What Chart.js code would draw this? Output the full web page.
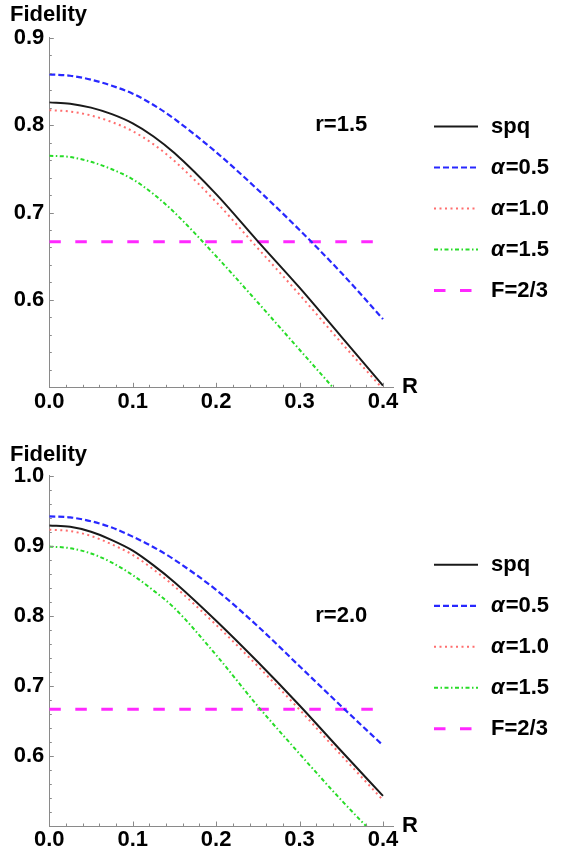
<!DOCTYPE html>
<html>
<head>
<meta charset="utf-8">
<script src="https://cdn.jsdelivr.net/npm/chart.js@4.4.0/dist/chart.umd.min.js"></script>
<style>
  body { margin: 0; background: #fff; }
  canvas { display: block; }
</style>
</head>
<body>
<canvas id="top" width="580" height="420"></canvas>
<canvas id="bottom" width="580" height="433"></canvas>
<script>
const R = [0, 0.025, 0.05, 0.075, 0.1, 0.125, 0.15, 0.2, 0.25, 0.3, 0.35, 0.4];
const Rflat = [0, 0.4];

// r = 1.5
const spq15  = [0.826, 0.8245, 0.820, 0.8125, 0.802, 0.787, 0.768, 0.721, 0.667, 0.614, 0.558, 0.502];
const a05_15 = [0.858, 0.8565, 0.852, 0.845, 0.836, 0.823, 0.807, 0.769, 0.726, 0.680, 0.631, 0.578];
const a10_15 = [0.817, 0.8155, 0.811, 0.8035, 0.793, 0.778, 0.759, 0.712, 0.659, 0.606, 0.551, 0.498];
const a15_15 = [0.765, 0.7635, 0.758, 0.7495, 0.738, 0.721, 0.700, 0.650, 0.597, 0.543, 0.489];

// r = 2.0
const spq20  = [0.929, 0.927, 0.920, 0.908, 0.893, 0.872, 0.848, 0.793, 0.734, 0.672, 0.607, 0.543];
const a05_20 = [0.942, 0.9405, 0.935, 0.926, 0.913, 0.898, 0.880, 0.837, 0.785, 0.728, 0.671, 0.615];
const a10_20 = [0.923, 0.921, 0.914, 0.902, 0.887, 0.866, 0.842, 0.787, 0.728, 0.666, 0.601, 0.537];
const a15_20 = [0.899, 0.8965, 0.889, 0.876, 0.858, 0.836, 0.811, 0.744, 0.671, 0.603, 0.537, 0.475];

const classical = [2 / 3, 2 / 3];

const seriesLabels = ['spq', 'α=0.5', 'α=1.0', 'α=1.5', 'F=2/3'];
const xTicks = [0, 0.1, 0.2, 0.3, 0.4];
const yTicksTop = [0.5, 0.6, 0.7, 0.8, 0.9];
const yTicksBottom = [0.5, 0.6, 0.7, 0.8, 0.9, 1.0];

Chart.defaults.font.family = "'Liberation Sans', Arial, sans-serif";
Chart.defaults.font.size = 22;
Chart.defaults.font.weight = 'bold';
Chart.defaults.color = '#000';

const AXIS = '#8a8a8a';

function pts(xs, ys) {
  return ys.map((v, i) => ({ x: xs[i], y: v }));
}

// inward ticks, legend, R label and r=.. label
const extras = {
  id: 'extras',
  afterDraw(chart, args, opts) {
    const { ctx, chartArea: a, scales: { x, y } } = chart;
    ctx.save();
    ctx.strokeStyle = AXIS;
    ctx.lineWidth = 1;
    ctx.beginPath();
    for (let i = 0; i <= 20; i++) {
      const px = Math.round(x.getPixelForValue(i * 0.02)) + 0.5;
      ctx.moveTo(px, a.bottom);
      ctx.lineTo(px, a.bottom - (i % 5 === 0 ? 4.5 : 2.5));
    }
    const n = Math.round((y.max - y.min) / 0.02);
    for (let i = 1; i <= n; i++) {
      const py = Math.round(y.getPixelForValue(y.min + i * 0.02)) + 0.5;
      ctx.moveTo(a.left, py);
      ctx.lineTo(a.left + (i % 5 === 0 ? 4.5 : 2.5), py);
    }
    ctx.stroke();

    ctx.fillStyle = '#000';
    ctx.font = "bold 22px 'Liberation Sans', Arial, sans-serif";
    ctx.textBaseline = 'middle';
    ctx.textAlign = 'left';
    ctx.fillText('R', a.right + 9, a.bottom);

    ctx.textAlign = 'center';
    ctx.fillText(opts.note, x.getPixelForValue(0.35), y.getPixelForValue(0.8));

    // legend
    const mid = (a.top + a.bottom) / 2 - 4;
    chart.data.datasets.forEach((ds, i) => {
      const ly = mid + (i - 2) * 41;
      ctx.strokeStyle = ds.borderColor;
      ctx.lineWidth = ds.borderWidth;
      ctx.setLineDash(ds.borderDash || []);
      ctx.beginPath();
      ctx.moveTo(434, ly);
      ctx.lineTo(478, ly);
      ctx.stroke();
      ctx.setLineDash([]);
      ctx.textAlign = 'left';
      let tx = 491;
      let txt = ds.label;
      if (txt.startsWith('α')) {
        ctx.font = "italic bold 22px 'Liberation Sans', Arial, sans-serif";
        ctx.fillText('α', tx, ly);
        tx += ctx.measureText('α').width + 1;
        txt = txt.slice(1);
      }
      ctx.font = "bold 22px 'Liberation Sans', Arial, sans-serif";
      ctx.fillText(txt, tx, ly);
    });
    ctx.restore();
  }
};

function makeChart(id, series, yMax, yTicks, note, titlePad, bottomH) {
  const styles = [
    { color: '#1a1a1a', width: 2, dash: [] },
    { color: 'rgb(40,40,255)', width: 2.2, dash: [6, 3] },
    { color: 'rgb(255,110,110)', width: 2, dash: [2, 3.5] },
    { color: 'rgb(40,220,40)', width: 2, dash: [4, 2.5, 1.5, 2.5] },
    { color: 'rgb(255,40,255)', width: 3, dash: [11.5, 14.5] }
  ];
  const datasets = series.map((s, i) => ({
    label: seriesLabels[i],
    data: s,
    borderColor: styles[i].color,
    borderWidth: styles[i].width,
    borderDash: styles[i].dash,
    pointRadius: 0,
    fill: false,
    cubicInterpolationMode: 'monotone',
    clip: 0
  }));
  return new Chart(document.getElementById(id), {
    type: 'line',
    data: { datasets },
    options: {
      responsive: false,
      animation: false,
      layout: { padding: { left: 10, right: 187, top: 0, bottom: 0 } },
      plugins: {
        legend: { display: false },
        tooltip: { enabled: false },
        title: {
          display: true,
          text: 'Fidelity',
          align: 'start',
          color: '#000',
          font: { size: 22, weight: 'bold', lineHeight: 1.2 },
          padding: titlePad
        },
        extras: { note }
      },
      scales: {
        x: {
          type: 'linear',
          min: 0,
          max: 0.412,
          afterBuildTicks: s => { s.ticks = xTicks.map(v => ({ value: v })); },
          afterFit: s => { s.height = bottomH; },
          grid: { display: false, drawTicks: false },
          border: { display: true, color: AXIS, width: 1 },
          ticks: { padding: 1, maxRotation: 0, callback: v => v.toFixed(1) }
        },
        y: {
          type: 'linear',
          min: 0.5,
          max: yMax,
          afterBuildTicks: s => { s.ticks = yTicks.map(v => ({ value: v })); },
          afterFit: s => { s.width = 39.3; },
          grid: { display: false, drawTicks: false },
          border: { display: true, color: AXIS, width: 1 },
          ticks: { padding: 5, callback: v => (v < 0.55 ? '' : v.toFixed(1)) }
        }
      }
    },
    plugins: [extras]
  });
}

makeChart('top', [
  pts(R, spq15), pts(R, a05_15), pts(R, a10_15), pts(R, a15_15), pts(Rflat, classical)
], 0.9, yTicksTop, 'r=1.5', { top: 2, bottom: 9.3 }, 32.7);

makeChart('bottom', [
  pts(R, spq20), pts(R, a05_20), pts(R, a10_20), pts(R, a15_20), pts(Rflat, classical)
], 1.0, yTicksBottom, 'r=2.0', { top: 21.8, bottom: 7.5 }, 27);
</script>
</body>
</html>
